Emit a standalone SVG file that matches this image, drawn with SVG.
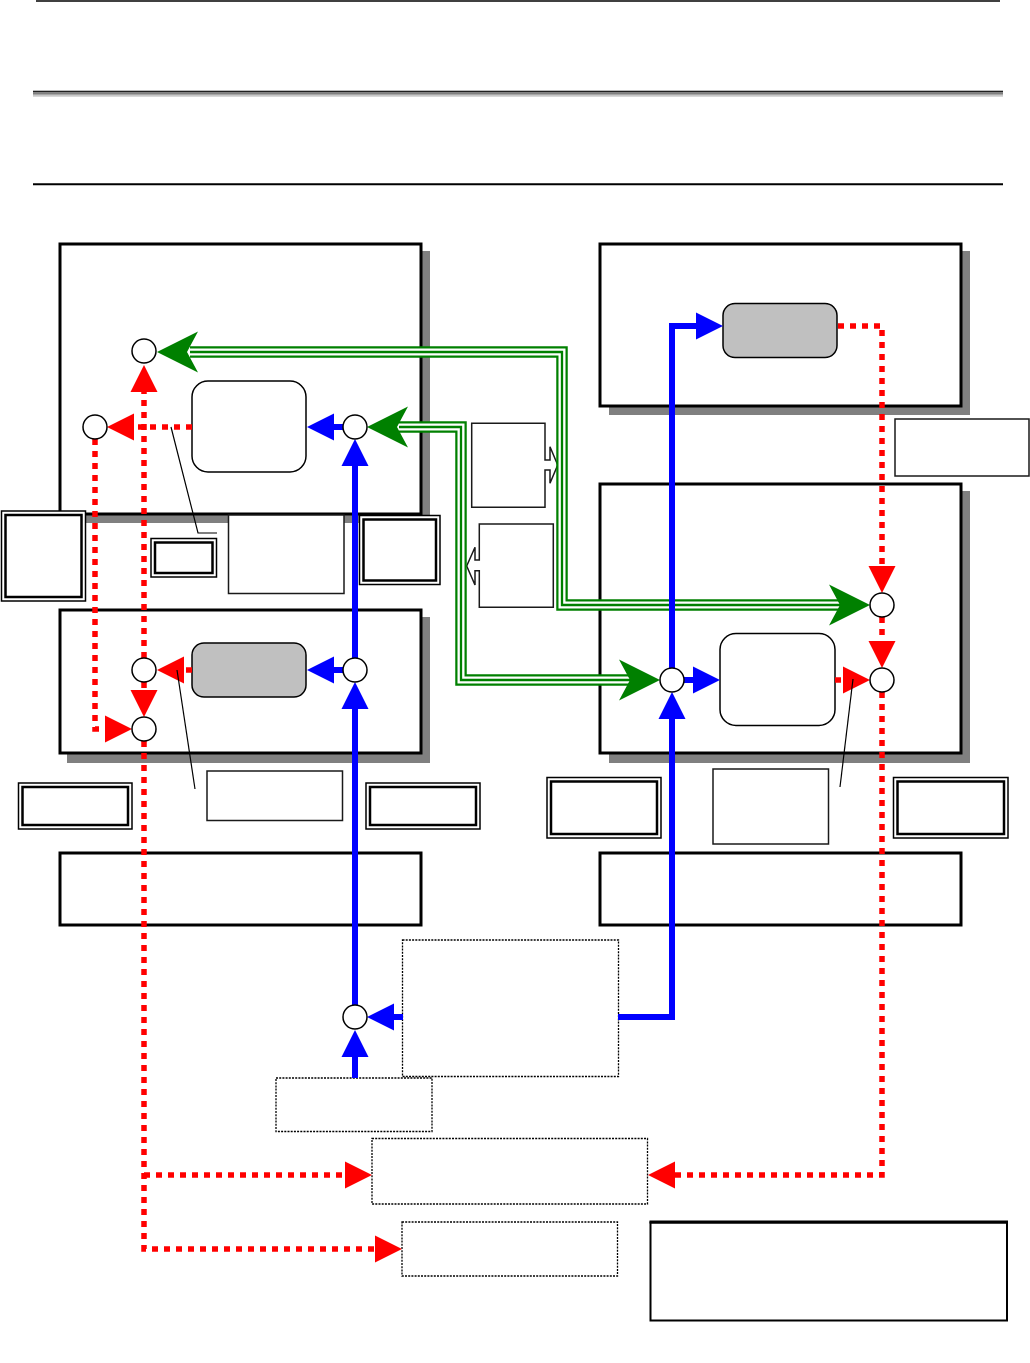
<svg xmlns="http://www.w3.org/2000/svg" xmlns:xlink="http://www.w3.org/1999/xlink" width="1030" height="1363" viewBox="0 0 1030 1363">
<style>
.shadow{fill:#808080;stroke:none}
.big{fill:#fff;stroke:#000;stroke-width:3}
.plain{fill:none;stroke:#000;stroke-width:3}
.thin{fill:#fff;stroke:#1a1a1a;stroke-width:1.5}
.dbo{fill:#fff;stroke:#000;stroke-width:1.5}
.dbi{fill:none;stroke:#000;stroke-width:2.5}
.dot{fill:#fff;stroke:#000;stroke-width:1.3;stroke-dasharray:2 1.2}
.rr{fill:#fff;stroke:#000;stroke-width:1.5}
.rrg{fill:#c0c0c0;stroke:#000;stroke-width:1.5}
.circ{fill:#fff;stroke:#000;stroke-width:1.5}
.blue{fill:none;stroke:#0000ff;stroke-width:6}
.bluea{fill:#0000ff}
.red{fill:none;stroke:#ff0000;stroke-width:5.5;stroke-dasharray:6 6}
.reda{fill:#ff0000}
.g1{fill:none;stroke:#008000;stroke-width:11.5}
.g2{fill:none;stroke:#fff;stroke-width:7}
.g3{fill:none;stroke:#008000;stroke-width:2.3}
.ga{fill:#008000}
.lead{fill:none;stroke:#000;stroke-width:1.2}
</style>
<defs>
<polygon id="tri" points="0,0 -27,-13.5 -27,13.5"/>
<polygon id="stealth" points="0,0 -41,-20.5 -30,0 -41,20.5"/>
</defs>

<g id="header">
<line x1="36" y1="1" x2="1000" y2="1" stroke="#000" stroke-width="1.5"/>
<rect x="33" y="90.7" width="970" height="1.8" fill="#202020"/>
<rect x="33" y="92.4" width="970" height="2.4" fill="#808080"/>
<rect x="33" y="94.7" width="970" height="2" fill="#c8c8c8"/>
<line x1="33" y1="184.3" x2="1003" y2="184.3" stroke="#000" stroke-width="2"/>
</g>

<g id="shadows">
<rect class="shadow" x="69" y="251" width="361" height="272"/>
<rect class="shadow" x="609" y="251" width="361" height="164"/>
<rect class="shadow" x="609" y="491" width="361" height="272"/>
<rect class="shadow" x="67" y="617" width="363" height="146"/>
</g>

<g id="box-top-left"><rect class="big" x="60" y="244" width="361" height="270"/></g>
<g id="box-top-right"><rect class="big" x="600" y="244" width="361" height="162"/></g>
<g id="box-right-mid"><rect class="big" x="600" y="484" width="361" height="269"/></g>
<g id="box-left-mid"><rect class="big" x="60" y="610" width="361" height="143"/></g>
<g id="box-bottom-left"><rect class="plain" x="60" y="853" width="361" height="72"/></g>
<g id="box-bottom-right"><rect class="plain" x="600" y="853" width="361" height="72"/></g>

<g id="proc-top-left"><rect class="rr" x="192" y="381" width="114" height="91" rx="16"/></g>
<g id="proc-left-mid"><rect class="rrg" x="192" y="643" width="114" height="54" rx="12"/></g>
<g id="proc-top-right"><rect class="rrg" x="723" y="303.5" width="114" height="54" rx="12"/></g>
<g id="proc-right-mid"><rect class="rr" x="720" y="633.5" width="115" height="92" rx="16"/></g>

<g id="label-A"><rect class="dbo" x="1.5" y="511" width="84" height="90"/><rect class="dbi" x="5.5" y="515" width="76" height="82"/></g>
<g id="label-B"><rect class="dbo" x="151" y="538.5" width="65.5" height="38.5"/><rect class="dbi" x="155" y="542.5" width="57.5" height="30.5"/></g>
<g id="label-C"><rect class="thin" x="228.5" y="515" width="115.5" height="78.5"/></g>
<g id="label-D"><rect class="dbo" x="359.5" y="515.5" width="80.5" height="69"/><rect class="dbi" x="363.5" y="519.5" width="72.5" height="61"/></g>
<g id="label-H"><rect class="dbo" x="18.5" y="783" width="113.5" height="46"/><rect class="dbi" x="22.5" y="787" width="105.5" height="38"/></g>
<g id="label-I"><rect class="thin" x="207" y="771" width="135.5" height="49.5"/></g>
<g id="label-J"><rect class="dbo" x="366" y="783" width="114" height="46"/><rect class="dbi" x="370" y="787" width="106" height="38"/></g>
<g id="label-K"><rect class="dbo" x="547" y="777.5" width="114" height="60.5"/><rect class="dbi" x="551" y="781.5" width="106" height="52.5"/></g>
<g id="label-L"><rect class="thin" x="713" y="769" width="115.5" height="75"/></g>
<g id="label-M"><rect class="dbo" x="893.5" y="777.5" width="114.5" height="60.5"/><rect class="dbi" x="897.5" y="781.5" width="106.5" height="52.5"/></g>
<g id="label-R"><rect class="thin" x="895" y="419" width="134" height="57"/></g>
<g id="callout-right"><path class="thin" d="M471.7,423.3 H545 V460 H550 V446.7 L557.7,465 L550,483.3 V470 H545 V507.3 H471.7 Z"/></g>
<g id="callout-left"><path class="thin" d="M479.3,524 H553.3 V607.3 H479.3 V570.7 H475 V585 L466.7,566 L475,547.3 V560 H479.3 Z"/></g>

<g id="dotted-F"><rect class="dot" x="402.5" y="940" width="216" height="136.5"/></g>
<g id="dotted-G"><rect class="dot" x="276" y="1078" width="156" height="53.5"/></g>
<g id="dotted-1"><rect class="dot" x="372" y="1138.5" width="275.5" height="65.5"/></g>
<g id="dotted-2"><rect class="dot" x="402" y="1222" width="215.5" height="54"/></g>
<g id="note-box"><rect x="650.5" y="1222.5" width="356.5" height="98" fill="#fff" stroke="#000" stroke-width="2"/><line x1="649.5" y1="1222" x2="1008" y2="1222" stroke="#000" stroke-width="3"/></g>

<g id="connectors">
<path class="g1" d="M190 352 H562 V605 H842"/>
<path class="g2" d="M190 352 H562 V605 H842"/>
<path class="g3" d="M190 352 H562 V605 H842"/>
<path class="g1" d="M399 427 H461 V680 H632"/>
<path class="g2" d="M399 427 H461 V680 H632"/>
<path class="g3" d="M399 427 H461 V680 H632"/>
<use xlink:href="#stealth" class="ga" transform="translate(157,352) rotate(180)"/>
<use xlink:href="#stealth" class="ga" transform="translate(870,605)"/>
<use xlink:href="#stealth" class="ga" transform="translate(367,427) rotate(180)"/>
<use xlink:href="#stealth" class="ga" transform="translate(660,680)"/>
<path class="blue" d="M355 1078 V1056"/>
<use xlink:href="#tri" class="bluea" transform="translate(355,1030) rotate(-90)"/>
<path class="blue" d="M403 1017 H392"/>
<use xlink:href="#tri" class="bluea" transform="translate(367,1017) rotate(180)"/>
<path class="blue" d="M355 1005 V708"/>
<use xlink:href="#tri" class="bluea" transform="translate(355,682) rotate(-90)"/>
<path class="blue" d="M343 670 H332"/>
<use xlink:href="#tri" class="bluea" transform="translate(307,670) rotate(180)"/>
<path class="blue" d="M355 658 V465"/>
<use xlink:href="#tri" class="bluea" transform="translate(355,439) rotate(-90)"/>
<path class="blue" d="M343 427 H332"/>
<use xlink:href="#tri" class="bluea" transform="translate(307,427) rotate(180)"/>
<path class="blue" d="M618 1017 H672 V717"/>
<use xlink:href="#tri" class="bluea" transform="translate(672,692) rotate(-90)"/>
<path class="blue" d="M672 668 V326 H697"/>
<use xlink:href="#tri" class="bluea" transform="translate(723,326)"/>
<path class="blue" d="M684 680 H694"/>
<use xlink:href="#tri" class="bluea" transform="translate(720,680)"/>
<path class="red" d="M192 427 H134"/>
<use xlink:href="#tri" class="reda" transform="translate(107,427) rotate(180)"/>
<path class="red" d="M144 658 V391"/>
<use xlink:href="#tri" class="reda" transform="translate(144,365) rotate(-90)"/>
<path class="red" d="M95 439 V729 H106"/>
<use xlink:href="#tri" class="reda" transform="translate(132,729)"/>
<path class="red" d="M192 670 H183"/>
<use xlink:href="#tri" class="reda" transform="translate(157,670) rotate(180)"/>
<path class="red" d="M144 682 V691"/>
<use xlink:href="#tri" class="reda" transform="translate(144,717) rotate(90)"/>
<path class="red" d="M144 741 V1249 H375"/>
<use xlink:href="#tri" class="reda" transform="translate(402,1249)"/>
<path class="red" d="M144 1175 H345"/>
<use xlink:href="#tri" class="reda" transform="translate(372,1175)"/>
<path class="red" d="M838 326 H882 V571"/>
<use xlink:href="#tri" class="reda" transform="translate(882,593) rotate(90)"/>
<path class="red" d="M882 617 V641"/>
<use xlink:href="#tri" class="reda" transform="translate(882,668) rotate(90)"/>
<path class="red" d="M835 680 H843"/>
<use xlink:href="#tri" class="reda" transform="translate(870,680)"/>
<path class="red" d="M882 692 V1175 H675"/>
<use xlink:href="#tri" class="reda" transform="translate(648,1175) rotate(180)"/>
<path class="lead" d="M171 427 L198 533 H217"/>
<path class="lead" d="M177 670 L195 789"/>
<path class="lead" d="M853 679 L840 787"/>
</g>

<g id="junctions">
<circle class="circ" cx="144" cy="351" r="12"/>
<circle class="circ" cx="95" cy="427" r="12"/>
<circle class="circ" cx="355" cy="427" r="12"/>
<circle class="circ" cx="144" cy="670" r="12"/>
<circle class="circ" cx="355" cy="670" r="12"/>
<circle class="circ" cx="144" cy="729" r="12"/>
<circle class="circ" cx="355" cy="1017" r="12"/>
<circle class="circ" cx="672" cy="680" r="12"/>
<circle class="circ" cx="882" cy="605" r="12"/>
<circle class="circ" cx="882" cy="680" r="12"/>
</g>
</svg>
